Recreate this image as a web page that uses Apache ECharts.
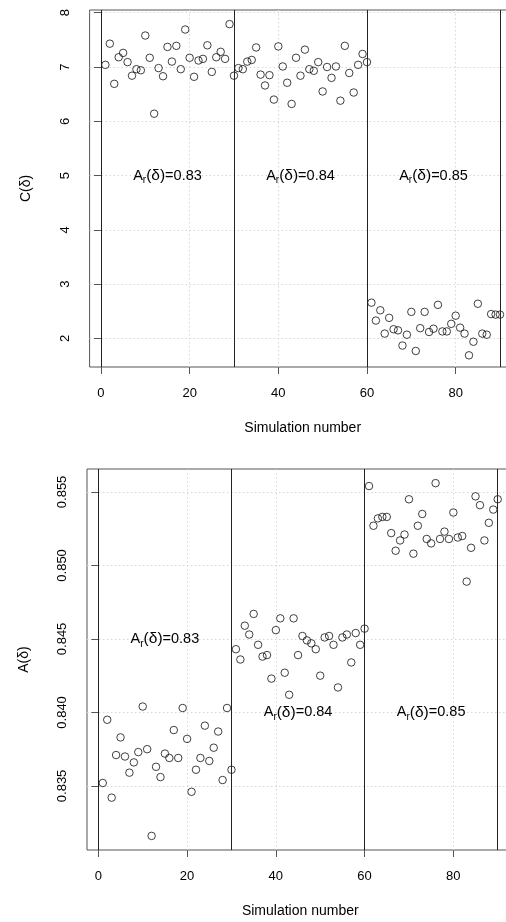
<!DOCTYPE html>
<html><head><meta charset="utf-8">
<script src="https://cdn.jsdelivr.net/npm/echarts@6/dist/echarts.min.js"></script>
<style>html,body{margin:0;padding:0;background:#fff}#c{width:506px;height:922px}</style>
</head><body><div id="c"></div><script>
const simulation = [1,2,3,4,5,6,7,8,9,10,11,12,13,14,15,16,17,18,19,20,21,22,23,24,25,26,27,28,29,30,
31,32,33,34,35,36,37,38,39,40,41,42,43,44,45,46,47,48,49,50,51,52,53,54,55,56,57,58,59,60,
61,62,63,64,65,66,67,68,69,70,71,72,73,74,75,76,77,78,79,80,81,82,83,84,85,86,87,88,89,90];
const cValues = [7.04,7.43,6.69,7.18,7.26,7.09,6.84,6.96,6.94,7.58,7.17,6.14,6.98,6.83,7.37,7.10,7.39,6.96,7.69,7.17,6.82,7.12,7.15,7.40,6.91,7.18,7.28,7.15,7.79,6.84,
6.98,6.96,7.10,7.13,7.36,6.86,6.66,6.85,6.40,7.38,7.01,6.71,6.32,7.17,6.84,7.32,6.96,6.93,7.09,6.55,7.00,6.80,7.01,6.38,7.39,6.89,6.53,7.04,7.24,7.09,
2.66,2.33,2.52,2.09,2.38,2.17,2.15,1.87,2.07,2.49,1.77,2.19,2.49,2.12,2.18,2.62,2.13,2.13,2.27,2.42,2.20,2.09,1.69,1.94,2.64,2.09,2.07,2.45,2.44,2.44];
const aValues = [0.8352,0.8395,0.8342,0.8371,0.8383,0.8370,0.8359,0.8366,0.8373,0.8404,0.8375,0.8316,0.8363,0.8356,0.8372,0.8369,0.8388,0.8369,0.8403,0.8382,0.8346,0.8361,0.8369,0.8391,0.8367,0.8376,0.8387,0.8354,0.8403,0.8361,
0.8443,0.8436,0.8459,0.8453,0.8467,0.8446,0.8438,0.8439,0.8423,0.8456,0.8464,0.8427,0.8412,0.8464,0.8439,0.8452,0.8449,0.8447,0.8443,0.8425,0.8451,0.8452,0.8446,0.8417,0.8451,0.8453,0.8434,0.8454,0.8446,0.8457,
0.8554,0.8527,0.8532,0.8533,0.8533,0.8522,0.8510,0.8517,0.8521,0.8545,0.8508,0.8527,0.8535,0.8518,0.8515,0.8556,0.8518,0.8523,0.8518,0.8536,0.8519,0.8520,0.8489,0.8512,0.8547,0.8541,0.8517,0.8529,0.8538,0.8545];
const xTicks = [0,20,40,60,80];
const cTicks = [2,3,4,5,6,7,8];
const aTicks = [0.835,0.840,0.845,0.850,0.855];
const separators = [0,30,60,90];
const labelX = [15,45,75];
const cLabelY = [5,5,5];
const aLabelY = [0.845,0.840,0.840];
const arLabels = ['0.83','0.84','0.85'];

const FONT = 'Liberation Sans, Arial, sans-serif';
const chart = echarts.init(document.getElementById('c'));

function xAxisFor(gi){
  return {type:'value', gridIndex:gi, min:-2.56, max:93.56,
    axisLine:{show:false},
    axisTick:{show:true, inside:false, length:7, customValues:xTicks, lineStyle:{color:'#555', width:1}},
    axisLabel:{customValues:xTicks, margin:20, fontSize:13, color:'#000', fontFamily:FONT},
    splitLine:{show:true, lineStyle:{color:'#d6d6d6', width:1, type:[1.5,2.5]}},
    name:'Simulation number', nameLocation:'middle', nameGap:54,
    nameTextStyle:{fontSize:14, color:'#000', fontFamily:FONT}};
}
function yAxisFor(gi, mn, mx, ticks, name, fmt){
  return {type:'value', gridIndex:gi, min:mn, max:mx,
    axisLine:{show:false},
    axisTick:{show:true, inside:false, length:7, customValues:ticks, lineStyle:{color:'#555', width:1}},
    axisLabel:{customValues:ticks, rotate:90, margin:18, fontSize:13, color:'#000', fontFamily:FONT, formatter:fmt},
    splitLine:{show:true, lineStyle:{color:'#d6d6d6', width:1, type:[1.5,2.5]}},
    name:name, nameLocation:'middle', nameGap:56,
    nameTextStyle:{fontSize:14, color:'#000', fontFamily:FONT}};
}
function scatterFor(gi, values, labelYs){
  return {type:'scatter', xAxisIndex:gi, yAxisIndex:gi,
    data: simulation.map((s,i)=>[s, values[i]]),
    symbol:'circle', symbolSize:7.5,
    itemStyle:{color:'rgba(0,0,0,0)', borderColor:'#111', borderWidth:1},
    markLine:{silent:true, symbol:['none','none'], label:{show:false},
      lineStyle:{color:'#222', width:1, type:'solid'},
      data: separators.map(v=>({xAxis:v}))},
    markPoint:{silent:true, symbol:'circle', symbolSize:0,
      label:{show:true, position:'inside',
        formatter: p => '{a|A}{s|r}{d|(δ)}{a|=' + p.data.value + '}',
        rich:{a:{fontSize:14.5, fontFamily:FONT, color:'#000', lineHeight:20, verticalAlign:'middle'},
              d:{fontSize:15.5, fontFamily:FONT, color:'#000', lineHeight:20, verticalAlign:'middle'},
              s:{fontSize:10, fontFamily:FONT, color:'#000', lineHeight:10, verticalAlign:'bottom'}}},
      data: labelX.map((x,i)=>({coord:[x, labelYs[i]], value:arLabels[i]}))}
  };
}

chart.setOption({
  animation:false,
  grid:[
    {left:89.6, right:-9.8, top:10, height:357, show:true, borderColor:'#555', borderWidth:1, backgroundColor:'transparent', outerBoundsMode:'none'},
    {left:87, right:-7.5, top:469, height:381, show:true, borderColor:'#555', borderWidth:1, backgroundColor:'transparent', outerBoundsMode:'none'}
  ],
  xAxis:[xAxisFor(0), xAxisFor(1)],
  yAxis:[
    yAxisFor(0, 1.475, 8.05, cTicks, 'C(δ)', v=>String(v)),
    yAxisFor(1, 0.83064, 0.85656, aTicks, 'A(δ)', v=>v.toFixed(3))
  ],
  series:[scatterFor(0, cValues, cLabelY), scatterFor(1, aValues, aLabelY)]
});
</script></body></html>
